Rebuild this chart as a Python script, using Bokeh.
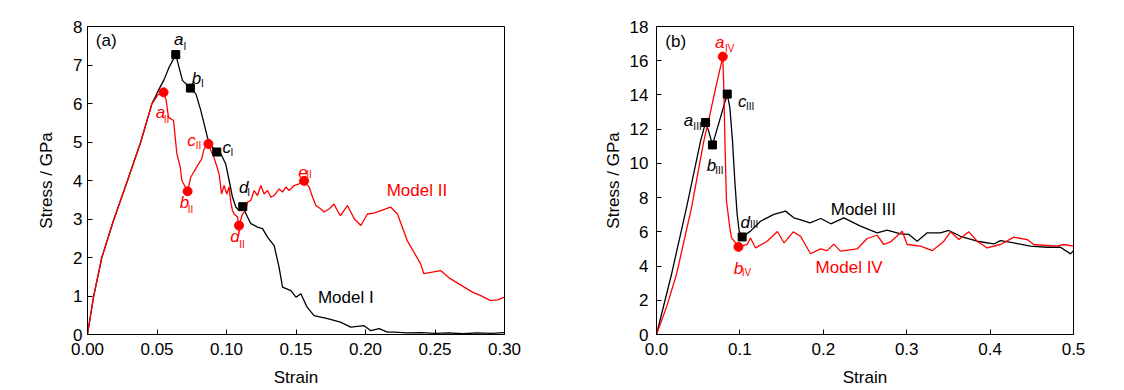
from bokeh.plotting import figure
from bokeh.layouts import row
from bokeh.models import Range1d, FixedTicker, NumeralTickFormatter
from bokeh.embed import file_html
from bokeh.resources import INLINE
from bokeh.core.properties import value

# ---------------- Panel (a) data ----------------
strain_I = [0.0, 0.0043, 0.0103, 0.0187, 0.0288, 0.0383, 0.0463, 0.051, 0.0551, 0.0587,
            0.0635, 0.0683, 0.074, 0.078, 0.0815, 0.0839, 0.0863, 0.0887, 0.093, 0.096,
            0.0995, 0.1019, 0.1043, 0.1067, 0.1091, 0.1117, 0.1151, 0.1175, 0.1223, 0.1259,
            0.1295, 0.1343, 0.1378, 0.1403, 0.1463, 0.150, 0.1535, 0.158, 0.163, 0.1727,
            0.182, 0.1894, 0.199, 0.2038, 0.2098, 0.2158, 0.2206, 0.230, 0.240, 0.250,
            0.260, 0.270, 0.280, 0.290, 0.300]
stress_I = [0.0, 0.97, 2.0, 2.96, 4.0, 5.0, 5.99, 6.34, 6.62, 6.94,
            7.27, 6.6, 6.40, 6.25, 5.82, 5.47, 5.12, 4.91, 4.74, 4.69,
            4.42, 4.0, 3.57, 3.31, 3.22, 3.32, 3.05, 2.88, 2.79, 2.75,
            2.53, 2.31, 1.75, 1.23, 1.14, 0.97, 1.06, 0.71, 0.49, 0.41,
            0.32, 0.19, 0.23, 0.10, 0.15, 0.06, 0.06, 0.04, 0.05, 0.03,
            0.04, 0.02, 0.04, 0.03, 0.05]

strain_II = [0.0, 0.0043, 0.0103, 0.0187, 0.0288, 0.0383, 0.0463, 0.0505, 0.0547, 0.0565,
             0.0583, 0.0619, 0.0643, 0.0667, 0.0679, 0.072, 0.0743, 0.077, 0.080, 0.082,
             0.0839, 0.087, 0.0888, 0.091, 0.0947, 0.0964, 0.0983, 0.1002, 0.1019, 0.1031,
             0.1043, 0.1055, 0.1079, 0.109, 0.1115, 0.1139, 0.1151, 0.1175, 0.1199, 0.1223,
             0.1247, 0.1271, 0.1295, 0.1319, 0.1343, 0.1378, 0.1403, 0.1427, 0.1451, 0.1486,
             0.1522, 0.1558, 0.1594, 0.1619, 0.1643, 0.1679, 0.1702, 0.1738, 0.1774, 0.180,
             0.182, 0.187, 0.192, 0.1967, 0.2014, 0.206, 0.211, 0.218, 0.223, 0.230,
             0.2396, 0.242, 0.248, 0.254, 0.261, 0.271, 0.277, 0.283, 0.290, 0.295,
             0.300]
stress_II = [0.0, 0.97, 2.0, 2.96, 4.0, 5.0, 5.99, 6.22, 6.29, 6.1,
             5.64, 5.56, 4.69, 4.35, 4.0, 3.72, 4.09, 4.25, 4.44, 4.55,
             4.82, 4.95, 4.78, 4.6, 4.17, 3.65, 3.87, 3.65, 3.83, 3.44,
             3.22, 3.13, 3.05, 2.83, 3.13, 3.22, 3.44, 3.48, 3.74, 3.61,
             3.87, 3.65, 3.74, 3.57, 3.61, 3.78, 3.70, 3.83, 3.74, 3.87,
             3.91, 3.99, 3.83, 3.57, 3.35, 3.26, 3.18, 3.26, 3.39, 3.2,
             3.09, 3.35, 3.0, 2.83, 3.13, 3.15, 3.22, 3.31, 3.13, 2.44,
             1.84, 1.58, 1.62, 1.66, 1.45, 1.23, 1.1, 1.01, 0.88, 0.9,
             0.97]

marks_I_strain = [0.0635, 0.074, 0.093, 0.1117]
marks_I_stress = [7.27, 6.40, 4.74, 3.32]
marks_I_letters = ["a", "b", "c", "d"]
marks_II_strain = [0.0547, 0.072, 0.087, 0.109, 0.1558]
marks_II_stress = [6.29, 3.72, 4.95, 2.83, 3.99]
marks_II_letters = ["a", "b", "c", "d", "e"]

# ---------------- Panel (b) data ----------------
strain_III = [0.0, 0.018, 0.036, 0.0528, 0.0588, 0.0625, 0.0671, 0.072, 0.078, 0.0848,
              0.0879, 0.0911, 0.0939, 0.0967, 0.0991, 0.1027, 0.1127, 0.1247, 0.1407, 0.1547,
              0.1647, 0.172, 0.184, 0.197, 0.209, 0.2246, 0.2446, 0.2646, 0.2766, 0.2926,
              0.3026, 0.3126, 0.3246, 0.3405, 0.3505, 0.3645, 0.3845, 0.4045, 0.4125, 0.4285,
              0.4484, 0.4684, 0.4844, 0.4964, 0.5]
stress_III = [0.0, 3.52, 7.42, 11.3, 12.39, 11.9, 11.08, 11.9, 12.9, 14.05,
              13.28, 11.33, 8.99, 7.02, 6.05, 5.70, 6.04, 6.62, 7.02, 7.21,
              6.82, 6.72, 6.52, 6.78, 6.47, 6.82, 6.33, 5.94, 6.1, 5.88,
              5.85, 5.45, 5.94, 5.94, 6.08, 5.74, 5.45, 5.29, 5.49, 5.35,
              5.16, 5.1, 5.1, 4.71, 4.9]

strain_IV = [0.0, 0.012, 0.024, 0.042, 0.0567, 0.062, 0.070, 0.0795, 0.0808, 0.0822,
             0.0839, 0.0879, 0.0899, 0.0983, 0.1087, 0.1127, 0.1187, 0.1327, 0.145,
             0.153, 0.164, 0.1727, 0.1847, 0.1966, 0.2046, 0.2126, 0.2206, 0.2406, 0.2526,
             0.2646, 0.2726, 0.2806, 0.2946, 0.3006, 0.3166, 0.3306, 0.3446, 0.3526, 0.3626,
             0.3745, 0.3845, 0.3965, 0.4125, 0.4285, 0.4444, 0.4524, 0.4804, 0.4884, 0.5]
stress_IV = [0.0, 1.6, 3.52, 7.42, 11.3, 12.4, 14.2, 16.24, 14.25, 11.0,
             7.8, 6.25, 5.66, 5.12, 5.26, 5.64, 5.06, 5.45, 6.02,
             5.35, 6.0, 5.74, 4.72, 5.0, 4.9, 5.28, 4.87, 5.0, 5.61,
             5.80, 5.26, 5.41, 6.04, 5.26, 5.16, 4.9, 5.45, 6.0, 5.55,
             6.0, 5.45, 5.06, 5.26, 5.69, 5.55, 5.26, 5.16, 5.26, 5.16]

marks_III_strain = [0.0588, 0.0671, 0.0848, 0.1027]
marks_III_stress = [12.39, 11.08, 14.05, 5.70]
marks_III_letters = ["a", "b", "c", "d"]
marks_IV_strain = [0.0795, 0.0983]
marks_IV_stress = [16.24, 5.12]
marks_IV_letters = ["a", "b"]

ticks_a_x = [0.0, 0.05, 0.10, 0.15, 0.20, 0.25, 0.30]
ticks_a_y = [0, 1, 2, 3, 4, 5, 6, 7, 8]
ticks_b_x = [0.0, 0.1, 0.2, 0.3, 0.4, 0.5]
ticks_b_y = [0, 2, 4, 6, 8, 10, 12, 14, 16, 18]

# ---------------- layout / style (pixel offsets for point labels) ----------------
FONT = value("Liberation Sans")
RED = "#FF0000"
BLACK = "#000000"
# (letter dx, letter dy, subscript dx, subscript dy) relative to the marker, in px
off_I = [(3, -15, 9, -8), (6, -10, 12, -5), (10, -5, 15, 0), (1, -19, 6, -14)]
off_II = [(-3, 20, 3, 27), (-3, 11, 3, 18), (-17, -3, -10, 2), (-4, 11, 3, 19), (-1, -9, 5, -6)]
off_III = [(-17, -2, -8, 4), (-1, 21, 7, 26), (15, 7, 23, 12), (3, -14, 12, -12)]
off_IV = [(-3, -14, 7, -8), (0, 22, 8, 26)]


def make_panel(xr, yr, xt, yt, xfmt, border_left, tick_standoff, label_standoff):
    p = figure(x_range=Range1d(*xr), y_range=Range1d(*yr),
               frame_width=417, frame_height=308,
               min_border_left=border_left, min_border_right=20,
               min_border_top=26, min_border_bottom=56,
               output_backend="svg", toolbar_location=None,
               background_fill_color="white", border_fill_color="white")
    p.grid.visible = False
    p.outline_line_color = BLACK
    p.outline_line_width = 1
    p.outline_line_alpha = 1
    p.xaxis.ticker = FixedTicker(ticks=xt)
    p.yaxis.ticker = FixedTicker(ticks=yt)
    p.xaxis.formatter = NumeralTickFormatter(format=xfmt)
    p.yaxis.formatter = NumeralTickFormatter(format="0")
    p.xaxis.axis_label = "Strain"
    p.yaxis.axis_label = "Stress / GPa"
    for ax in (p.xaxis[0], p.yaxis[0]):
        ax.axis_line_color = BLACK
        ax.axis_line_width = 1
        ax.major_tick_line_color = BLACK
        ax.major_tick_in = 5
        ax.major_tick_out = 0
        ax.minor_tick_line_color = None
        ax.major_label_text_font = "Liberation Sans"
        ax.major_label_text_font_size = "17px"
        ax.major_label_text_color = BLACK
        ax.axis_label_text_font = "Liberation Sans"
        ax.axis_label_text_font_size = "17px"
        ax.axis_label_text_font_style = "normal"
        ax.axis_label_text_color = BLACK
    p.xaxis.major_label_standoff = 8
    p.xaxis.axis_label_standoff = 10
    p.yaxis.major_label_standoff = tick_standoff
    p.yaxis.axis_label_standoff = label_standoff
    return p


def point_labels(p, xs, ys, letters, sub, color, offs):
    for x, y, letter, (dx, dy, sdx, sdy) in zip(xs, ys, letters, offs):
        p.text(x=[x], y=[y], text=[letter], text_font=FONT, text_font_style="italic",
               text_font_size="17px", text_color=color, text_align="center",
               text_baseline="alphabetic", x_offset=dx, y_offset=dy)
        p.text(x=[x], y=[y], text=[sub], text_font=FONT, text_font_size="10px",
               text_color=color, text_align="center", text_baseline="alphabetic",
               x_offset=sdx, y_offset=sdy)


# ---------------- Panel (a) ----------------
pa = make_panel((0, 0.30), (0, 8), ticks_a_x, ticks_a_y, "0.00", 87, 5, 14)
pa.line(strain_I, stress_I, line_color=BLACK, line_width=1.3)
pa.line(strain_II, stress_II, line_color=RED, line_width=1.3)
pa.scatter(marks_I_strain, marks_I_stress, marker="square", size=8,
           fill_color=BLACK, line_color=BLACK)
pa.scatter(marks_II_strain, marks_II_stress, marker="circle", size=9,
           fill_color=RED, line_color=RED)
point_labels(pa, marks_I_strain, marks_I_stress, marks_I_letters, "I", BLACK, off_I)
point_labels(pa, marks_II_strain, marks_II_stress, marks_II_letters, "II", RED, off_II)
pa.text(x=[0.006], y=[7.64], text=["(a)"], text_font=FONT, text_font_size="17px",
        text_color=BLACK, text_align="left", text_baseline="middle")
pa.text(x=[0.237], y=[3.74], text=["Model II"], text_font=FONT, text_font_size="17px",
        text_color=RED, text_align="center", text_baseline="middle")
pa.text(x=[0.1858], y=[0.96], text=["Model I"], text_font=FONT, text_font_size="17px",
        text_color=BLACK, text_align="center", text_baseline="middle")

# ---------------- Panel (b) ----------------
pb = make_panel((0, 0.5), (0, 18), ticks_b_x, ticks_b_y, "0.0", 132, 8, 4)
pb.line(strain_III, stress_III, line_color=BLACK, line_width=1.3)
pb.line(strain_IV, stress_IV, line_color=RED, line_width=1.3)
pb.scatter(marks_III_strain, marks_III_stress, marker="square", size=8,
           fill_color=BLACK, line_color=BLACK)
pb.scatter(marks_IV_strain, marks_IV_stress, marker="circle", size=9,
           fill_color=RED, line_color=RED)
point_labels(pb, marks_III_strain, marks_III_stress, marks_III_letters, "III", BLACK, off_III)
point_labels(pb, marks_IV_strain, marks_IV_stress, marks_IV_letters, "IV", RED, off_IV)
pb.text(x=[0.0106], y=[17.1], text=["(b)"], text_font=FONT, text_font_size="17px",
        text_color=BLACK, text_align="left", text_baseline="middle")
pb.text(x=[0.248], y=[7.33], text=["Model III"], text_font=FONT, text_font_size="17px",
        text_color=BLACK, text_align="center", text_baseline="middle")
pb.text(x=[0.231], y=[3.93], text=["Model IV"], text_font=FONT, text_font_size="17px",
        text_color=RED, text_align="center", text_baseline="middle")

layout = row(pa, pb)
open("out.html", "w").write(file_html(layout, INLINE))
